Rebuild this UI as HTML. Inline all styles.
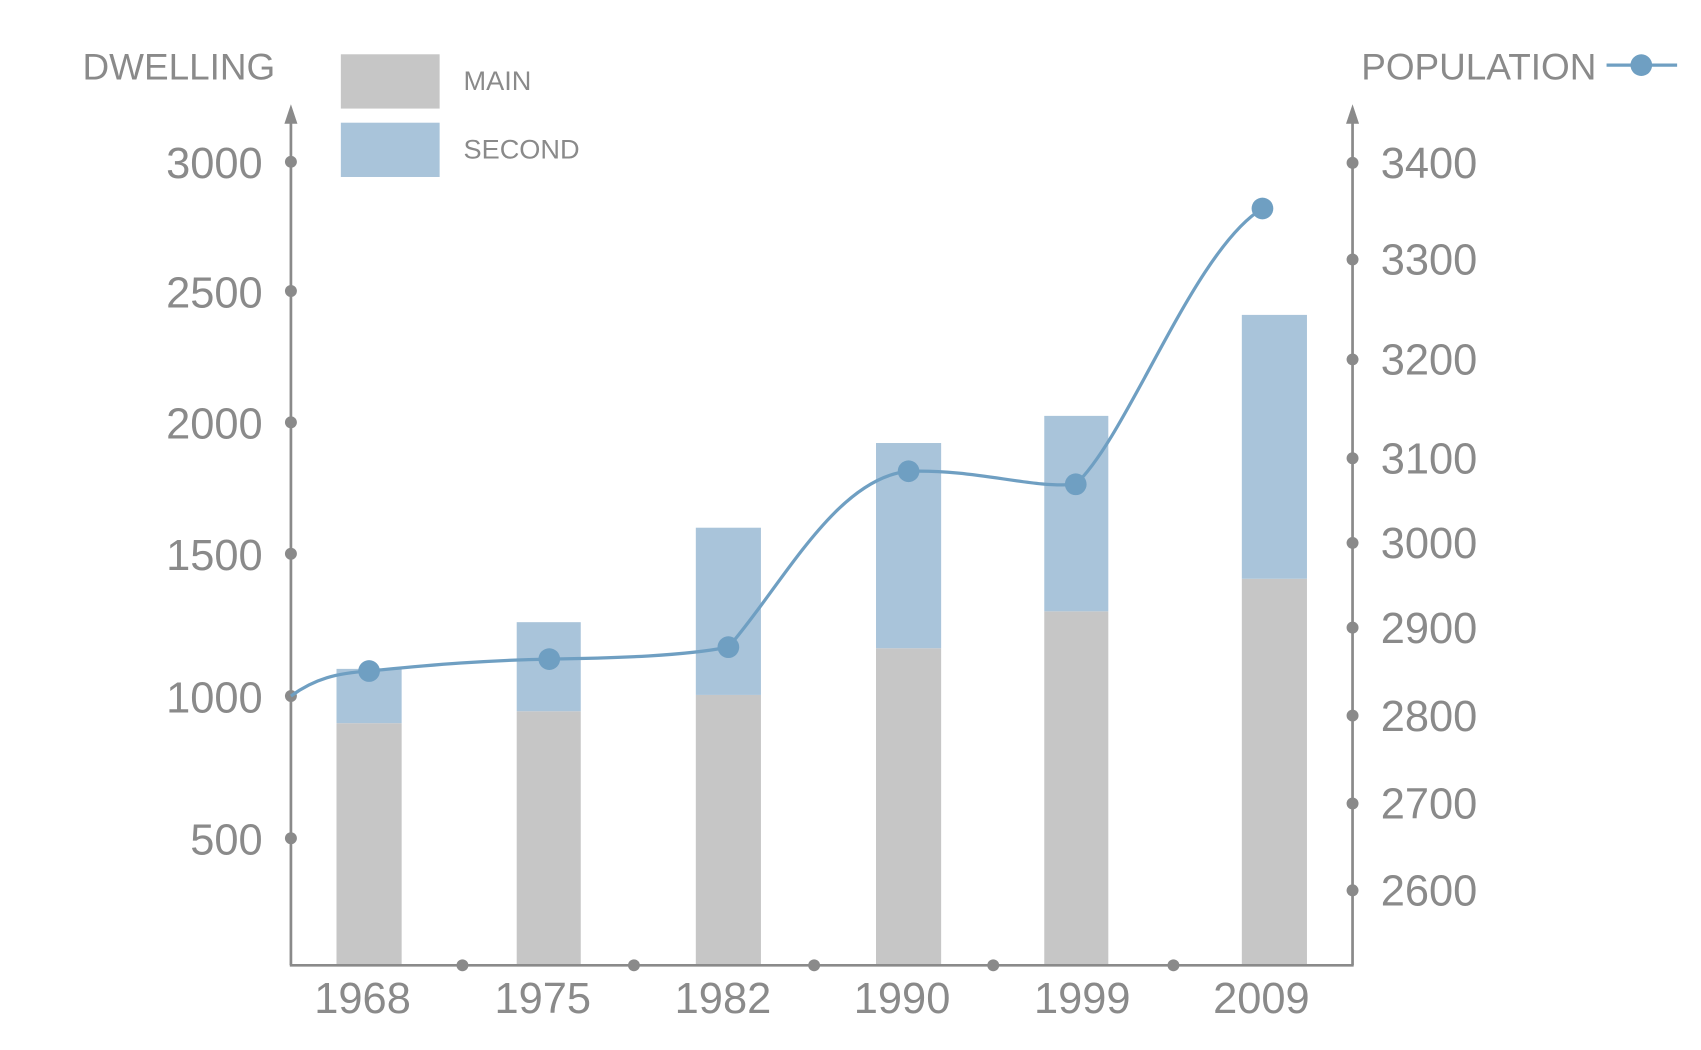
<!DOCTYPE html>
<html><head><meta charset="utf-8"><style>
html,body{margin:0;padding:0;background:#fff;width:1701px;height:1050px;overflow:hidden}
svg{display:block}
text{font-family:"Liberation Sans Narrow","Liberation Sans",sans-serif;fill:#8a8a8a}
</style></head><body>
<svg width="1701" height="1050" viewBox="0 0 1567 967" preserveAspectRatio="none">
<!-- bars -->
<g fill="#c6c6c6">
<rect x="310" y="666" width="60" height="223"/>
<rect x="476" y="655" width="59" height="234"/>
<rect x="641" y="640" width="60" height="249"/>
<rect x="807" y="597" width="60" height="292"/>
<rect x="962" y="563" width="59" height="326"/>
<rect x="1144" y="533" width="60" height="356"/>
</g>
<g fill="#a9c4da">
<rect x="310" y="616" width="60" height="50"/>
<rect x="476" y="573" width="59" height="82"/>
<rect x="641" y="486" width="60" height="154"/>
<rect x="807" y="408" width="60" height="189"/>
<rect x="962" y="383" width="59" height="180"/>
<rect x="1144" y="290" width="60" height="243"/>
</g>
<!-- axes -->
<g stroke="#8a8a8a" stroke-width="2.5" fill="none">
<line x1="268" y1="105" x2="268" y2="889"/>
<line x1="1246" y1="105" x2="1246" y2="889"/>
<line x1="267" y1="889" x2="1247" y2="889"/>
</g>
<g fill="#8a8a8a">
<polygon points="268,96 262,114 274,114"/>
<polygon points="1246,96 1240,114 1252,114"/>
<circle cx="268" cy="149" r="5.5"/><circle cx="268" cy="268" r="5.5"/><circle cx="268" cy="389" r="5.5"/>
<circle cx="268" cy="510" r="5.5"/><circle cx="268" cy="641" r="5.5"/><circle cx="268" cy="772" r="5.5"/>
<circle cx="1246" cy="150" r="5.5"/><circle cx="1246" cy="239" r="5.5"/><circle cx="1246" cy="331" r="5.5"/>
<circle cx="1246" cy="422" r="5.5"/><circle cx="1246" cy="500" r="5.5"/><circle cx="1246" cy="578" r="5.5"/>
<circle cx="1246" cy="659" r="5.5"/><circle cx="1246" cy="740" r="5.5"/><circle cx="1246" cy="820" r="5.5"/>
<circle cx="426" cy="889" r="5.5"/><circle cx="584" cy="889" r="5.5"/><circle cx="750" cy="889" r="5.5"/>
<circle cx="915" cy="889" r="5.5"/><circle cx="1081" cy="889" r="5.5"/>
</g>
<!-- tick labels -->
<g font-size="40" text-anchor="end">
<text x="242" y="164">3000</text><text x="242" y="283">2500</text><text x="242" y="404">2000</text>
<text x="242" y="525">1500</text><text x="242" y="656">1000</text><text x="242" y="787">500</text>
</g>
<g font-size="40" text-anchor="start">
<text x="1272" y="164">3400</text><text x="1272" y="253">3300</text><text x="1272" y="345">3200</text>
<text x="1272" y="436">3100</text><text x="1272" y="514">3000</text><text x="1272" y="592">2900</text>
<text x="1272" y="673">2800</text><text x="1272" y="754">2700</text><text x="1272" y="834">2600</text>
</g>
<g font-size="40" text-anchor="middle">
<text x="334" y="933">1968</text><text x="500" y="933">1975</text><text x="666" y="933">1982</text>
<text x="831" y="933">1990</text><text x="997" y="933">1999</text><text x="1162" y="933">2009</text>
</g>
<!-- titles/legend -->
<text x="76" y="73" font-size="34">DWELLING</text>
<text x="1254" y="73" font-size="34">POPULATION</text>
<rect x="314" y="50" width="91" height="50" fill="#c6c6c6"/>
<rect x="314" y="113" width="91" height="50" fill="#a9c4da"/>
<text x="427" y="83" font-size="25">MAIN</text>
<text x="427" y="146" font-size="25">SECOND</text>
<line x1="1480" y1="60" x2="1545" y2="60" stroke="#6f9fc2" stroke-width="3"/>
<circle cx="1512" cy="60" r="10" fill="#6f9fc2"/>
<!-- line -->
<path d="M268,641 C290,625 310,620 340,618 C400,612 450,608 506,607 C570,606 630,604 671,596 C720,540 770,440 837,434 C900,432 950,450 991,446 C1040,400 1100,230 1163,192" fill="none" stroke="#6f9fc2" stroke-width="3"/>
<g fill="#6f9fc2">
<circle cx="340" cy="618" r="10"/><circle cx="506" cy="607" r="10"/><circle cx="671" cy="596" r="10"/>
<circle cx="837" cy="434" r="10"/><circle cx="991" cy="446" r="10"/><circle cx="1163" cy="192" r="10"/>
</g>
</svg>
</body></html>
